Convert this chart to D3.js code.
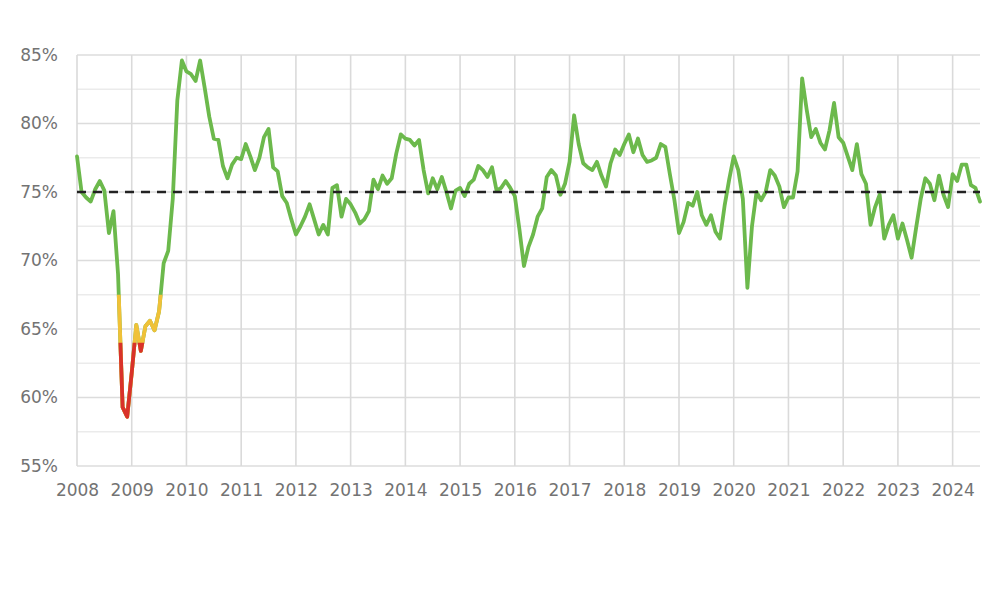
<!DOCTYPE html>
<html>
<head>
<meta charset="utf-8">
<script src="https://cdn.jsdelivr.net/npm/d3@7"></script>
<style>
  body { margin: 0; background: #fff; }
  text { font-family: "DejaVu Sans", Verdana, sans-serif; }
</style>
</head>
<body>
<div id="chart"></div>
<script>
const fullwidth = 1000;
const fullheight = 605;
const margin = { top: 55, right: 20, bottom: 139, left: 77 };
const width = fullwidth - margin.left - margin.right;
const height = fullheight - margin.top - margin.bottom;

// monthly readings, Jan 2008 .. Jul 2024
const startYear = 2008;
const values = [
  77.6, 75.0, 74.6, 74.3, 75.2, 75.8, 75.1, 72.0, 73.6, 69.0, 59.3, 58.6,   // 2008
  61.8, 65.3, 63.4, 65.2, 65.6, 64.9, 66.3, 69.8, 70.7, 74.5, 81.7, 84.6,   // 2009
  83.8, 83.6, 83.1, 84.6, 82.6, 80.5, 78.9, 78.8, 76.9, 76.0, 77.0, 77.5,   // 2010
  77.4, 78.5, 77.6, 76.6, 77.5, 79.0, 79.6, 76.8, 76.5, 74.7, 74.2, 73.0,   // 2011
  71.9, 72.5, 73.2, 74.1, 73.0, 71.9, 72.6, 71.9, 75.3, 75.5, 73.2, 74.5,   // 2012
  74.1, 73.5, 72.7, 73.0, 73.6, 75.9, 75.2, 76.2, 75.6, 76.0, 77.8, 79.2,   // 2013
  78.9, 78.8, 78.4, 78.8, 76.6, 74.9, 76.0, 75.2, 76.1, 75.0, 73.8, 75.1,   // 2014
  75.3, 74.7, 75.6, 75.9, 76.9, 76.6, 76.1, 76.8, 75.1, 75.3, 75.8, 75.3,   // 2015
  74.7, 72.3, 69.6, 71.0, 71.9, 73.2, 73.8, 76.1, 76.6, 76.2, 74.8, 75.6,   // 2016
  77.2, 80.6, 78.5, 77.1, 76.8, 76.6, 77.2, 76.2, 75.4, 77.1, 78.1, 77.7,   // 2017
  78.5, 79.2, 77.9, 78.9, 77.7, 77.2, 77.3, 77.5, 78.5, 78.3, 76.3, 74.4,   // 2018
  72.0, 72.8, 74.2, 74.0, 75.0, 73.3, 72.6, 73.3, 72.1, 71.6, 74.0, 75.9,   // 2019
  77.6, 76.6, 74.5, 68.0, 72.5, 75.0, 74.4, 75.0, 76.6, 76.2, 75.4, 73.9,   // 2020
  74.6, 74.6, 76.5, 83.3, 81.0, 79.0, 79.6, 78.6, 78.1, 79.5, 81.5, 79.0,   // 2021
  78.6, 77.6, 76.6, 78.5, 76.3, 75.6, 72.6, 73.9, 74.8, 71.6, 72.6, 73.3,   // 2022
  71.6, 72.7, 71.5, 70.2, 72.4, 74.5, 76.0, 75.6, 74.4, 76.2, 74.8, 73.9,   // 2023
  76.3, 75.8, 77.0, 77.0, 75.5, 75.3, 74.3                                  // 2024
];
const series = values.map((v, i) => ({ t: startYear + i / 12, v }));

const yearTicks = d3.range(2008, 2025);
const pctTicks = [55, 60, 65, 70, 75, 80, 85];
const minorTicks = [57.5, 62.5, 67.5, 72.5, 77.5, 82.5];
const benchmark = 75;
const yellowBelow = 67.5;
const redBelow = 64;

const green = "#6cb94c", yellow = "#f0c138", red = "#d9322a";

const x = d3.scaleLinear().domain([2008, 2024.5]).range([0, width]);
const y = d3.scaleLinear().domain([55, 85]).range([height, 0]);

const svg = d3.select("#chart")
  .append("svg")
  .attr("width", fullwidth)
  .attr("height", fullheight);

const g = svg.append("g").attr("transform", `translate(${margin.left},${margin.top})`);

// grid
g.selectAll(".minor")
  .data(minorTicks)
  .enter().append("line")
  .attr("x1", 0).attr("x2", width)
  .attr("y1", d => y(d)).attr("y2", d => y(d))
  .attr("stroke", "#ebebeb").attr("stroke-width", 1.5);

g.selectAll(".major")
  .data(pctTicks)
  .enter().append("line")
  .attr("x1", 0).attr("x2", width)
  .attr("y1", d => y(d)).attr("y2", d => y(d))
  .attr("stroke", "#dcdcdc").attr("stroke-width", 1.6);

g.selectAll(".vgrid")
  .data(yearTicks)
  .enter().append("line")
  .attr("x1", d => x(d)).attr("x2", d => x(d))
  .attr("y1", 0).attr("y2", height)
  .attr("stroke", "#dadada").attr("stroke-width", 1.6);

// axes
const yAxis = g.append("g")
  .call(d3.axisLeft(y).tickValues(pctTicks).tickFormat(d => d + "%").tickSize(0).tickPadding(19));
const xAxis = g.append("g")
  .attr("transform", `translate(0,${height})`)
  .call(d3.axisBottom(x).tickValues(yearTicks).tickFormat(d3.format("d")).tickSize(0).tickPadding(18));
[yAxis, xAxis].forEach(a => {
  a.select(".domain").remove();
  a.selectAll("text").attr("fill", "#737373").style("font-size", "17px");
});

// clip regions for colour bands
const defs = svg.append("defs");
defs.append("clipPath").attr("id", "clip-yellow")
  .append("rect")
  .attr("x", -10).attr("width", width + 20)
  .attr("y", y(yellowBelow)).attr("height", height - y(yellowBelow) + 10);
defs.append("clipPath").attr("id", "clip-red")
  .append("rect")
  .attr("x", -10).attr("width", width + 20)
  .attr("y", y(redBelow)).attr("height", height - y(redBelow) + 10);

const line = d3.line().x(d => x(d.t)).y(d => y(d.v));

[[green, null], [yellow, "clip-yellow"], [red, "clip-red"]].forEach(([col, clip]) => {
  const p = g.append("path")
    .datum(series)
    .attr("fill", "none")
    .attr("stroke", col)
    .attr("stroke-width", 3.8)
    .attr("stroke-linejoin", "round")
    .attr("stroke-linecap", "round")
    .attr("d", line);
  if (clip) p.attr("clip-path", `url(#${clip})`);
});

// benchmark line
g.append("line")
  .attr("x1", 0).attr("x2", width)
  .attr("y1", y(benchmark)).attr("y2", y(benchmark))
  .attr("stroke", "#222")
  .attr("stroke-width", 2.6)
  .attr("stroke-dasharray", "9,7");
</script>
</body>
</html>
